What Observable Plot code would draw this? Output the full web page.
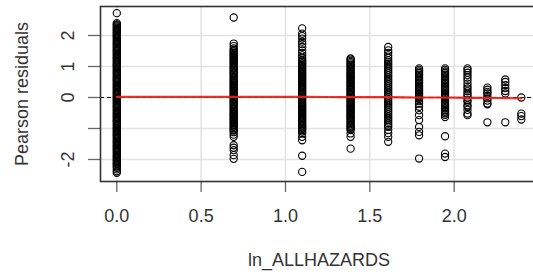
<!DOCTYPE html>
<html>
<head>
<meta charset="utf-8">
<script src="https://cdn.jsdelivr.net/npm/d3@7"></script>
<script src="https://cdn.jsdelivr.net/npm/@observablehq/plot@0.6"></script>
<style>
  html, body { margin: 0; padding: 0; background: #fff; }
  #chart svg { display: block; }
</style>
</head>
<body>
<div id="chart"></div>
<script>
// x levels: ln(1..11)
const xLevels = [0, 0.693, 1.099, 1.386, 1.609, 1.792, 1.946, 2.079, 2.197, 2.303, 2.398];

// Pearson residuals, one list per x level
const res0 = [2.72, 2.40, 2.36, 2.33, 2.29, 2.25, 2.21, 2.18, 2.14, 2.10, 2.06, 2.02, 1.98, 1.95, 1.91, 1.87, 1.83, 1.79, 1.75, 1.72, 1.68, 1.64, 1.60, 1.56, 1.52, 1.49, 1.45, 1.41, 1.37, 1.33, 1.29, 1.26, 1.22, 1.18, 1.14, 1.10, 1.06, 1.03, 0.99, 0.95, 0.91, 0.87, 0.83, 0.80, 0.76, 0.72, 0.68, 0.64, 0.60, 0.57, 0.53, 0.49, 0.45, 0.41, 0.37, 0.34, 0.30, 0.26, 0.22, 0.18, 0.14, 0.11, 0.07, 0.03, -0.01, -0.05, -0.08, -0.12, -0.16, -0.20, -0.24, -0.28, -0.31, -0.35, -0.39, -0.43, -0.47, -0.51, -0.54, -0.58, -0.62, -0.66, -0.70, -0.74, -0.77, -0.81, -0.85, -0.89, -0.93, -0.97, -1.00, -1.04, -1.08, -1.12, -1.16, -1.20, -1.23, -1.27, -1.31, -1.35, -1.39, -1.43, -1.46, -1.50, -1.54, -1.58, -1.62, -1.66, -1.69, -1.73, -1.77, -1.81, -1.85, -1.89, -1.92, -1.96, -2.00, -2.04, -2.08, -2.12, -2.15, -2.19, -2.23, -2.27, -2.32, -2.38, -2.43];
const res1 = [2.58, 1.74, 1.66, 1.58, 1.53, 1.49, 1.45, 1.41, 1.37, 1.33, 1.29, 1.25, 1.21, 1.17, 1.13, 1.09, 1.05, 1.01, 0.97, 0.93, 0.89, 0.85, 0.81, 0.77, 0.73, 0.69, 0.65, 0.61, 0.57, 0.53, 0.49, 0.45, 0.41, 0.37, 0.33, 0.29, 0.25, 0.21, 0.17, 0.13, 0.09, 0.05, 0.01, -0.03, -0.07, -0.11, -0.15, -0.19, -0.23, -0.27, -0.31, -0.35, -0.39, -0.43, -0.47, -0.51, -0.55, -0.59, -0.63, -0.67, -0.71, -0.75, -0.79, -0.83, -0.87, -0.91, -0.95, -0.99, -1.03, -1.07, -1.12, -1.20, -1.27, -1.54, -1.62, -1.70, -1.86, -1.98];
const res2 = [2.23, 2.06, 1.98, 1.90, 1.80, 1.72, 1.63, 1.52, 1.44, 1.36, 1.28, 1.22, 1.18, 1.14, 1.10, 1.06, 1.02, 0.98, 0.94, 0.90, 0.86, 0.82, 0.78, 0.74, 0.70, 0.66, 0.62, 0.58, 0.54, 0.50, 0.46, 0.42, 0.38, 0.34, 0.30, 0.26, 0.22, 0.18, 0.14, 0.10, 0.06, 0.02, -0.02, -0.06, -0.10, -0.14, -0.18, -0.22, -0.26, -0.30, -0.34, -0.38, -0.42, -0.46, -0.50, -0.54, -0.58, -0.62, -0.66, -0.70, -0.74, -0.78, -0.82, -0.86, -0.90, -0.94, -0.98, -1.02, -1.06, -1.10, -1.16, -1.27, -1.38, -1.88, -2.40];
const res3 = [1.26, 1.22, 1.18, 1.14, 1.10, 1.06, 1.02, 0.98, 0.94, 0.90, 0.86, 0.82, 0.78, 0.74, 0.70, 0.66, 0.62, 0.58, 0.54, 0.50, 0.46, 0.42, 0.38, 0.34, 0.30, 0.26, 0.22, 0.18, 0.14, 0.10, 0.06, 0.02, -0.02, -0.06, -0.10, -0.14, -0.18, -0.22, -0.26, -0.30, -0.34, -0.38, -0.42, -0.46, -0.50, -0.54, -0.58, -0.62, -0.66, -0.70, -0.74, -0.78, -0.82, -0.86, -0.90, -0.94, -0.98, -1.02, -1.05, -1.16, -1.27, -1.65];
const res4 = [1.63, 1.52, 1.44, 1.36, 1.28, 1.20, 1.14, 1.08, 1.02, 0.96, 0.90, 0.84, 0.78, 0.72, 0.66, 0.60, 0.54, 0.48, 0.42, 0.36, 0.30, 0.24, 0.18, 0.12, 0.06, 0.00, -0.06, -0.12, -0.18, -0.24, -0.30, -0.36, -0.42, -0.48, -0.54, -0.60, -0.66, -0.72, -0.78, -0.84, -0.90, -0.95, -1.05, -1.15, -1.27, -1.43];
const res5 = [0.94, 0.89, 0.84, 0.79, 0.74, 0.69, 0.64, 0.59, 0.54, 0.49, 0.44, 0.39, 0.34, 0.29, 0.24, 0.19, 0.14, 0.09, 0.04, -0.01, -0.05, -0.12, -0.20, -0.30, -0.41, -0.57, -0.73, -0.95, -1.11, -1.22, -1.97];
const res6 = [0.94, 0.89, 0.84, 0.79, 0.74, 0.69, 0.64, 0.59, 0.54, 0.49, 0.44, 0.39, 0.34, 0.29, 0.24, 0.19, 0.14, 0.09, 0.04, -0.01, -0.06, -0.11, -0.16, -0.21, -0.26, -0.31, -0.36, -0.41, -0.46, -0.51, -0.56, -0.63, -1.25, -1.81, -1.92];
const res7 = [0.94, 0.88, 0.80, 0.72, 0.64, 0.56, 0.45, 0.36, 0.29, 0.20, 0.12, 0.07, 0.00, -0.09, -0.14, -0.25, -0.30, -0.40, -0.52, -0.57];
const res8 = [0.32, 0.25, 0.18, 0.13, 0.05, -0.03, -0.10, -0.19, -0.22, -0.80];
const res9 = [0.58, 0.50, 0.40, 0.30, 0.21, 0.13, -0.80];
const res10 = [0.00, -0.52, -0.60, -0.71];
const residualGroups = [res0, res1, res2, res3, res4, res5, res6, res7, res8, res9, res10];

// red smoother through the residuals
const smoothY = [0.02, 0.02, 0.02, 0.01, 0.01, 0.00, 0.00, -0.01, -0.01, -0.02, -0.03];

// ticks and labels
const xTicks = [0, 0.5, 1, 1.5, 2];
const xTickLabels = ["0.0", "0.5", "1.0", "1.5", "2.0"];
const yTicks = [-2, -1, 0, 1, 2];
const yTickLabels = ["-2", "", "0", "1", "2"];
const xTitle = "ln_ALLHAZARDS";
const yTitle = "Pearson residuals";

// build tables
const points = residualGroups.flatMap((g, i) => g.map(v => ({x: xLevels[i], y: v})));
const smooth = xLevels.map((x, i) => ({x, y: smoothY[i]}));
const xLab = xTicks.map((t, i) => ({t, s: xTickLabels[i]}));
const yLab = yTicks.map((t, i) => ({t, s: yTickLabels[i]}));

const font = "'Liberation Sans', Arial, Helvetica, sans-serif";
const textColor = "#333";

const chart = Plot.plot({
  width: 533,
  height: 279,
  marginLeft: 100,
  marginRight: -4,
  marginTop: 6,
  marginBottom: 98,
  style: {fontFamily: font, background: "#fff", overflow: "hidden"},
  x: {domain: [-0.0966, 2.494]},
  y: {domain: [-2.71, 2.935]},
  marks: [
    Plot.gridX(xTicks, {stroke: "#e2e2e2", strokeOpacity: 1, strokeWidth: 1.5}),
    Plot.gridY(yTicks, {stroke: "#e2e2e2", strokeOpacity: 1, strokeWidth: 1.5}),
    Plot.ruleY([0], {stroke: "#000", strokeWidth: 1, strokeDasharray: "4,3"}),
    Plot.dot(points, {x: "x", y: "y", r: 3.6, stroke: "#000", strokeWidth: 1.1, fill: "none"}),
    Plot.line(smooth, {x: "x", y: "y", stroke: "#f01e14", strokeWidth: 2.2, strokeOpacity: 0.92, curve: "monotone-x"}),
    Plot.axisX({ticks: xTicks, tickSize: 11, tickFormat: () => "", label: null, stroke: "#666", strokeWidth: 1.3}),
    Plot.axisY({ticks: yTicks, tickSize: 12, tickFormat: () => "", label: null, stroke: "#666", strokeWidth: 1.3}),
    Plot.frame({stroke: "#333", strokeWidth: 1.6}),
    Plot.text(xLab, {x: "t", text: "s", frameAnchor: "bottom", dy: 35, lineAnchor: "middle", fontSize: 18, fill: textColor}),
    Plot.text(yLab, {y: "t", text: "s", frameAnchor: "left", dx: -32, rotate: -90, lineAnchor: "middle", textAnchor: "middle", fontSize: 18, fill: textColor}),
    Plot.text([xTitle], {text: d => d, frameAnchor: "bottom", dy: 79, lineAnchor: "middle", fontSize: 18, fill: textColor}),
    Plot.text([yTitle], {text: d => d, frameAnchor: "left", dx: -78, rotate: -90, lineAnchor: "middle", textAnchor: "middle", fontSize: 18, fill: textColor})
  ]
});
document.getElementById("chart").appendChild(chart);
</script>
</body>
</html>
